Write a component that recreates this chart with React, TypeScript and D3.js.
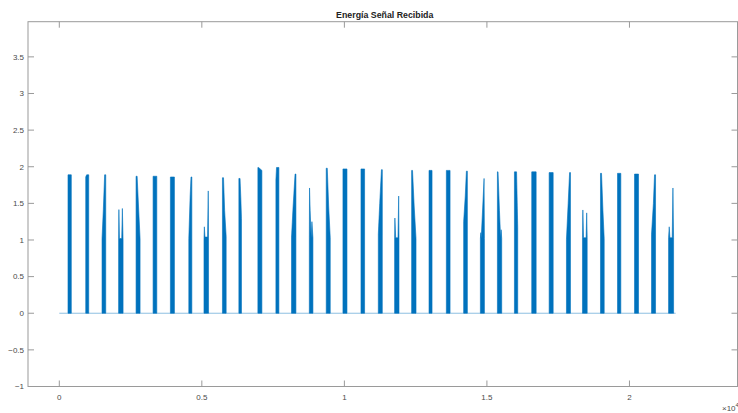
import React from "react";
import * as d3 from "d3";

// Energy of the received signal: each burst is an envelope [sample, energy]
// drawn as a filled trace down to the zero line.
const energyBursts: [number, number][][] = [
  [[305, 1.89], [421, 1.89]],
  [[927, 1.86], [960, 1.89], [1032, 1.89]],
  [[1499, 1.02], [1545, 1.42], [1590, 1.89], [1629, 1.89]],
  [[2080, 1.0], [2090, 1.415], [2110, 1.02], [2190, 1.02], [2212, 1.43], [2237, 1.0]],
  [[2693, 1.87], [2730, 1.87], [2780, 1.45], [2833, 1.02]],
  [[3290, 1.87], [3420, 1.87]],
  [[3897, 1.86], [4038, 1.86]],
  [[4543, 1.02], [4590, 1.6], [4620, 1.86], [4649, 1.86]],
  [[5075, 1.0], [5088, 1.18], [5110, 1.04], [5200, 1.04], [5225, 1.67], [5235, 1.0]],
  [[5723, 1.85], [5760, 1.85], [5800, 1.4], [5853, 1.05]],
  [[6299, 1.84], [6340, 1.84], [6370, 1.55], [6390, 1.29]],
  [[6966, 1.99], [6990, 1.99], [7106, 1.95]],
  [[7598, 1.82], [7620, 1.99], [7703, 1.99]],
  [[8146, 1.04], [8200, 1.45], [8270, 1.9], [8300, 1.9]],
  [[8770, 1.03], [8778, 1.71], [8800, 1.4], [8835, 1.03], [8862, 1.25], [8897, 1.03]],
  [[9364, 1.98], [9400, 1.98], [9450, 1.45], [9504, 1.03]],
  [[9950, 1.97], [10091, 1.97]],
  [[10582, 1.97], [10709, 1.97]],
  [[11190, 1.08], [11240, 1.5], [11300, 1.96], [11330, 1.96]],
  [[11762, 1.03], [11772, 1.3], [11800, 1.03], [11880, 1.03], [11905, 1.6], [11916, 1.03]],
  [[12359, 1.95], [12390, 1.95], [12450, 1.45], [12513, 1.02]],
  [[12969, 1.95], [13075, 1.95]],
  [[13577, 1.95], [13707, 1.95]],
  [[14184, 1.25], [14240, 1.6], [14280, 1.94], [14314, 1.94]],
  [[14771, 1.02], [14785, 1.1], [14800, 1.02], [14900, 1.84], [14912, 1.02]],
  [[15368, 1.93], [15390, 1.93], [15440, 1.4], [15480, 1.03], [15500, 1.14], [15519, 1.02]],
  [[15965, 1.93], [16040, 1.93], [16081, 1.17]],
  [[16572, 1.93], [16727, 1.93]],
  [[17183, 1.92], [17324, 1.92]],
  [[17790, 1.01], [17850, 1.5], [17900, 1.92], [17931, 1.92]],
  [[18352, 1.03], [18365, 1.41], [18390, 1.03], [18480, 1.03], [18500, 1.37], [18517, 1.03]],
  [[18984, 1.91], [19020, 1.91], [19070, 1.4], [19114, 1.02]],
  [[19581, 1.91], [19697, 1.91]],
  [[20178, 1.9], [20318, 1.9]],
  [[20774, 1.08], [20840, 1.5], [20880, 1.89], [20915, 1.89]],
  [[21372, 1.03], [21395, 1.18], [21420, 1.03], [21500, 1.03], [21525, 1.71], [21548, 1.03]],
];

// Zero-energy trace between bursts (first and last sample)
const baselineSamples = [0, 21620];

const xTicks = [0, 5000, 10000, 15000, 20000];
const yTicks = [-1, -0.5, 0, 0.5, 1, 1.5, 2, 2.5, 3, 3.5];
const xDomain: [number, number] = [-1098, 23790];
const yDomain: [number, number] = [-1, 3.98];

const W = 738;
const H = 413;
const box = { left: 28, right: 737.5, top: 21.7, bottom: 386.5 };
const LINE_BLUE = "#0072BD";
const AXIS = "#9a9a9a";
const TEXT = "#4a4a4a";
const FONT = "'Liberation Sans', Arial, Helvetica, sans-serif";

export default function App() {
  const x = d3.scaleLinear().domain(xDomain).range([box.left, box.right]);
  const y = d3.scaleLinear().domain(yDomain).range([box.bottom, box.top]);

  const area = d3
    .area<[number, number]>()
    .x((d) => x(d[0]))
    .y0(y(0))
    .y1((d) => y(d[1]));

  const baseline = d3
    .line<number>()
    .x((d) => x(d))
    .y(() => y(0));

  const fmtX = (v: number) => d3.format("~g")(v / 1e4);
  const tl = 6;

  return (
    <svg
      width={W}
      height={H}
      style={{ position: "absolute", left: 0, top: 0, background: "#fff" }}
      fontFamily={FONT}
    >
      <rect x={0} y={0} width={W} height={H} fill="#fff" />

      {/* signal */}
      <path d={baseline(baselineSamples) ?? ""} stroke={LINE_BLUE} strokeOpacity={0.45} strokeWidth={1} fill="none" />
      {energyBursts.map((b, i) => (
        <path
          key={i}
          d={area(b) ?? ""}
          fill={LINE_BLUE}
          stroke={LINE_BLUE}
          strokeWidth={0.6}
          strokeLinejoin="miter"
        />
      ))}

      {/* axes box */}
      <rect
        x={box.left}
        y={box.top}
        width={box.right - box.left}
        height={box.bottom - box.top}
        fill="none"
        stroke={AXIS}
        strokeWidth={1}
      />

      {/* x ticks (bottom and top) */}
      {xTicks.map((t) => (
        <g key={"x" + t}>
          <line x1={x(t)} x2={x(t)} y1={box.bottom} y2={box.bottom - tl} stroke={AXIS} />
          <line x1={x(t)} x2={x(t)} y1={box.top} y2={box.top + tl} stroke={AXIS} />
          <text x={x(t)} y={400} fontSize={8} fill={TEXT} textAnchor="middle">
            {fmtX(t)}
          </text>
        </g>
      ))}

      {/* y ticks (left and right) */}
      {yTicks.map((t) => (
        <g key={"y" + t}>
          <line x1={box.left} x2={box.left + tl} y1={y(t)} y2={y(t)} stroke={AXIS} />
          <line x1={box.right} x2={box.right - tl} y1={y(t)} y2={y(t)} stroke={AXIS} />
          <text x={24} y={y(t) + 2.8} fontSize={8} fill={TEXT} textAnchor="end">
            {d3.format("~g")(t)}
          </text>
        </g>
      ))}

      {/* exponent of the x axis */}
      <text x={722} y={411} fontSize={8} fill={TEXT}>
        ×10
        <tspan fontSize={6} dy={-4}>4</tspan>
      </text>

      <text
        x={(box.left + box.right) / 2 + 2}
        y={17.5}
        fontSize={8.8}
        fontWeight="bold"
        fill="#222"
        textAnchor="middle"
      >
        Energía Señal Recibida
      </text>
    </svg>
  );
}
